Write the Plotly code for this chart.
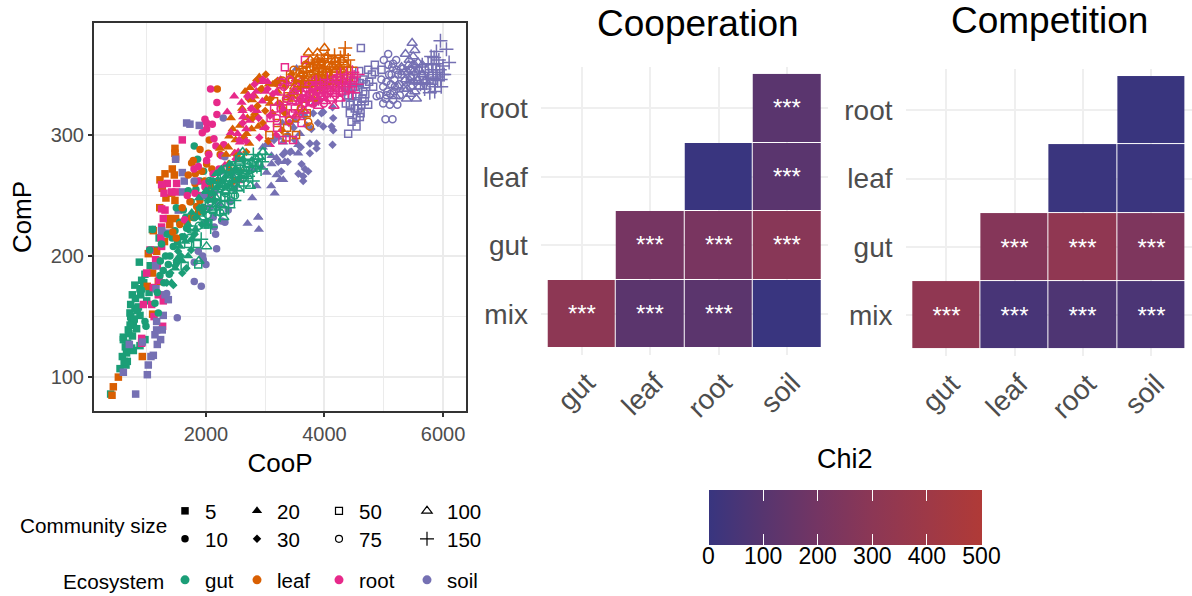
import plotly.graph_objects as go

# ---- scatter data ----------------------------------------------------------
gut_5_x = [392,550,589,673,651,746,606,606,690,775,746,718,803,887,758,887,915,876,1095,775,887,971,640,700,730,790,830,860,1000,1040,660,720,810,950,620,680,760,840,900,970,1060,1130,1210,730,800]
gut_5_y = [86,107,117,113,110,124,131,133,139,143,146,153,157,151,168,173,180,195,222,122,126,131,125,136,150,148,140,158,163,170,120,143,165,178,113,128,134,155,168,185,192,205,215,160,176]
gut_10_x = [915,988,971,1140,1196,1224,1280,1365,1393,1449,1505,1477,1674,1803,1859,1702,1618,1900,1100,1050,1250,1320,1430,1560,1750,1960,1180,1290,1380,1520,1600,1660,1830,1500,1350,1230]
gut_10_y = [172,142,146,161,153,184,188,193,200,208,195,221,223,291,280,254,238,262,222,205,210,200,215,228,245,270,170,178,185,212,216,232,255,240,218,196]
gut_20_x = [1420,1480,1520,1560,1600,1650,1700,1760,1820,1880,1940,2000,2060,2120,2200,2260,2330,1700,1850,2020,2170,2400,2480]
gut_20_y = [178,190,198,208,196,212,226,236,222,248,240,254,246,262,258,272,266,200,232,226,268,276,270]
gut_30_x = [1340,1400,1480,1530,1580,1640,1700,1760,1830,1890,1960,2030,2090,2150,2210,2280,2360,2420,2500,1450,1600,1750,1670,1810,1930,2070,2240,2550,2620]
gut_30_y = [178,186,192,204,200,216,222,214,232,240,236,246,252,246,258,262,258,268,272,176,186,205,190,218,226,262,270,264,280]
gut_50_x = [1640,1700,1790,1850,1910,1980,2050,2120,2190,2250,2310,2390,2450,2510,2580,1870,2040,2290,2650,2720,2360,2150]
gut_50_y = [192,210,222,210,236,226,244,238,250,258,248,262,258,268,272,193,226,238,268,276,272,258]
gut_75_x = [1720,1800,1880,1950,2030,2100,2180,2250,2330,2400,2470,2550,2620,2700,2780,2060,2240,2490,2840,2900,2580,2420,2300]
gut_75_y = [215,232,225,240,234,250,244,256,252,264,260,270,264,276,272,262,236,250,280,276,282,246,266]
gut_100_x = [2010,1880,2100,2170,2240,2320,2400,2470,2540,2620,2700,2770,2840,2900,2960,2300,2620,2200,2430,2560,2750]
gut_100_y = [208,196,238,248,242,254,258,264,256,270,266,278,272,282,286,232,286,262,274,278,258]
gut_150_x = [1920,2000,2080,2160,2240,2320,2400,2480,2560,2640,2710,2790,2860,2930,3000,2050,2200,2350,2500,2650,2800,2130,2280,2430,2580,2730,2880,2950,2520,2680,2380]
gut_150_y = [214,230,224,238,234,246,252,246,262,258,266,262,274,272,284,252,264,270,278,280,284,256,258,262,270,274,280,278,254,268,240]

leaf_5_x = [415,437,522,926,1100,1010,1196,1100,1027,1168,1365,1488,1112,1477,1477,1488,1432,1309,1466,1224,1264,1421,1477,1325,1220,1300,1390,1180]
leaf_5_y = [85,92,100,117,152,175,179,186,202,204,231,231,221,289,285,282,272,268,267,263,256,252,246,248,240,212,226,196]
leaf_10_x = [2191,2056,2040,1758,1786,1702,1815,2011,2011,1730,1899,1843,1870,1600,1500,1680,1930,2100,2200,2240,1980,1440,1560,1760,1900,2060,1820]
leaf_10_y = [338,296,285,277,279,267,260,276,253,245,246,241,236,240,215,228,270,272,262,284,262,220,226,232,288,258,268]
leaf_20_x = [2742,2780,2421,2393,2236,2376,2573,2826,2854,3079,2882,2685,2770,2730,2500,2610,2450,2950,3020,2660,2340,2560,3130,3210,2280,2820,2900,2700,3060,2480,2380]
leaf_20_y = [339,329,314,299,289,290,308,318,315,326,307,301,305,293,296,322,305,338,330,336,284,280,342,336,271,332,348,314,342,285,276]
leaf_30_x = [2850,2930,3010,3090,3170,3250,2720,2790,2640,3340,2520,2960,3120,3280,3400,2590,2400,2470,3050,3500,2870,3000,3210,3330,2680,3440]
leaf_30_y = [345,338,350,330,343,326,330,314,298,340,283,310,318,304,332,270,272,262,295,345,324,320,345,318,286,350]
leaf_50_x = [3200,3300,3380,3460,3540,3640,3720,3810,3900,3980,3070,3150,3260,3370,3520,3630,3420,3700,3860,3360,3580,3760,3940,4040,3480,3670]
leaf_50_y = [310,322,332,318,340,330,346,338,352,344,300,328,342,306,300,354,350,318,360,298,352,356,358,352,334,342]
leaf_75_x = [3726,3754,3350,3450,3550,3640,3730,3810,3880,3960,4040,4110,3290,3410,3600,3830,3990,4190,3520,3680,3770,3920,4070,4150,3480,3860,4000,3560]
leaf_75_y = [311,307,330,345,336,350,342,356,348,360,352,362,345,312,322,338,342,358,314,358,350,342,344,352,354,352,364,346]
leaf_100_x = [3500,3600,3690,3780,3870,3960,4040,4120,4200,4290,3730,3880,4000,3640,3800,4150,3470,4250,3820,3950,4080,4180,4320,3560,3690,3910,4060,4240,4360,3760]
leaf_100_y = [340,350,358,346,362,354,365,358,354,362,368,368,372,320,330,342,330,345,352,342,350,362,352,346,344,360,358,356,358,362]
leaf_150_x = [3900,4000,4090,4170,4250,4330,4400,4350,4280,4200,4120,4030,3950,4440,4390,3840,3750,3700,3800,3880,3960,4060,4140,4220,4300,4380,4470,3640,4020,4180,4270,4330,3920,3600]
leaf_150_y = [350,360,354,366,358,366,362,372,352,345,348,344,342,356,350,345,340,352,358,362,348,366,342,352,346,356,350,345,352,360,364,352,356,340]

root_5_x = [915,915,943,1084,1280,1196,1112,1151,1056,999,1252,1241,1252,1280,1269,1601,1348,1505,1252,1292,1421,1494,1309,1252,1180,1210,1125]
root_5_y = [132,128,160,160,163,168,174,197,205,186,208,215,224,231,142,296,260,260,259,252,253,253,238,239,192,180,150]
root_10_x = [2078,2185,2185,1983,2011,2107,2011,1938,2135,2168,2264,1798,1871,2011,1983,1685,1815,2078,1983,1960,2120,1860,1640,2220,1900,2050,2300]
root_10_y = [338,327,317,313,310,309,305,302,297,291,283,272,274,279,260,250,252,249,257,240,268,262,230,272,250,284,292]
root_20_x = [2893,2477,2601,2359,2618,2629,2713,2534,2573,3079,2545,2320,2573,2780,2850,2950,3040,2680,2420,2490,3180,2980,3120,2740,2860,2640,3000,3230]
root_20_y = [344,332,327,319,320,315,333,301,294,292,286,275,262,322,336,328,344,305,302,285,335,306,318,312,320,296,336,342]
root_30_x = [2960,3040,3130,3220,2820,2700,2620,2760,2890,3010,3300,3400,2500,2560,3500,3180,2900,3600,3080,2790,2680,3350,3260]
root_30_y = [346,338,334,326,342,332,310,322,314,306,322,310,280,296,336,300,298,328,316,332,295,344,346]
root_50_x = [3332,3670,3613,3150,3260,3360,3450,3540,3630,3720,3810,3900,3990,3090,3200,3400,3580,3760,3290,3470,3310,3500,3680,3850,3950]
root_50_y = [356,362,310,322,336,328,344,334,326,342,332,346,338,314,306,312,318,328,296,296,318,322,336,340,332]
root_75_x = [3260,3360,3460,3560,3660,3750,3840,3930,4020,4100,3410,3610,3800,3190,3990,3510,3700,3870,3310,4080,3620]
root_75_y = [322,330,318,340,326,334,344,332,342,336,346,344,326,314,326,328,338,336,340,346,330]
root_100_x = [4260,3450,3580,3700,3820,3940,4040,4130,4220,3520,3660,3780,3900,4020,4310,4160,3600,3740,3860,3980,4100,4240,3480,3840,4060]
root_100_y = [330,328,338,332,340,334,344,336,342,316,320,326,324,328,345,324,330,342,332,340,330,338,336,346,338]
root_150_x = [3760,3860,3960,4050,4130,4210,4290,4370,4440,4500,4540,4400,4310,4200,3900,4050,4480,3800,3930,4010,4100,4180,4250,4330,4420,3700,3840,4000,4140,4270,4360,4470,4560,4230,3620]
root_150_y = [336,344,338,346,340,348,342,350,344,348,342,336,334,332,330,332,335,330,342,340,336,344,338,346,340,332,338,334,344,350,342,352,350,336,328]

soil_5_x = [814,1011,1027,1072,1112,1179,1235,1140,1263,1168,1168,1280,606,707,926,1157,1309,1365,1252,1337,1151,1674,1730,1887,1488,1601,1634,1606,1533]
soil_5_y = [86,102,110,117,118,127,131,135,139,139,146,151,104,127,129,173,168,164,221,219,192,310,309,308,280,269,262,253,238]
soil_10_x = [1516,1803,1921,2000,1955,1944,1803,1871,2180,2163,2140,2320,2264,1337,2292,2320,2404,2376,2123,2152,2000,2480,1800,2250,2060,2220,2440,1960]
soil_10_y = [149,179,175,193,197,200,195,204,206,218,224,228,229,169,314,282,245,238,232,253,228,256,262,270,240,242,268,250]
soil_20_x = [2702,2882,2893,2854,2781,2882,3107,3191,3023,3191,3107,2938,3529,3304,3585,3557,3332,3445,3557,3332,3304,3250,3640,3100,2960,3420,3020,3220,3380,3500,2780,3160,3290]
soil_20_y = [227,232,222,258,248,232,283,281,269,267,276,274,355,294,301,292,286,286,285,278,263,263,318,258,290,310,292,298,300,312,272,252,310]
soil_30_x = [4136,4147,4119,3979,4147,4136,3754,3866,3866,3754,3613,3670,3726,3641,3641,3979,3810,3922,3480,3560,3380,3700,3270,3150,3600,3780,3890,3500,3420,3840,3300,3220,3950,3660]
soil_30_y = [323,314,307,307,304,292,293,293,289,285,276,272,270,266,262,319,318,329,306,268,278,308,270,296,290,305,310,296,286,326,284,278,318,316]
soil_50_x = [4614,4400,4586,4850,4850,4737,4754,4597,4822,4400,4541,4653,4737,4428,4428,4569,4597,4456,4541,4962,4510,4620,4690,4360,4480,4300,4510,4640,4700,4570,4470,4610,4540,4800,4680,4390,4560,4520,4450,4660]
soil_50_y = [372,301,353,358,352,354,344,343,340,333,332,336,325,325,318,322,315,311,307,354,340,325,334,326,345,336,322,330,342,338,332,318,314,350,328,340,328,344,338,346]
soil_75_x = [5075,5029,5148,5158,5215,5131,5046,5187,4990,4934,5046,5159,5102,5271,5355,5327,5230,5090,5000,4880,5120,5180,5060,5260,5300,5210,5030,4960,5140,5110,4990,5080,5170,5240]
soil_75_y = [367,313,313,359,354,350,344,340,340,333,333,329,325,333,345,355,325,350,362,332,342,346,336,342,350,362,330,346,356,334,326,358,336,350]
soil_100_x = [5479,5367,5524,5496,5580,5468,5384,5524,5440,5600,5350,5640,5250,5300,5550,5700,5420,5200,5460,5510,5400,5490,5540,5430,5370,5600,5470,5520,5450,5410,5570,5490,5340,5650]
soil_100_y = [376,367,370,365,360,354,330,336,345,340,352,350,340,356,330,345,358,332,348,344,338,358,352,362,346,354,340,358,334,352,345,352,338,358]
soil_150_x = [5957,6058,5889,6103,5777,5720,5833,5945,6000,5749,5889,5664,5970,5800,5600,5910,5760,6020,5520,5860,5830,5700,5930,5780,5650,5880,5990,5740,5810,5900,5620,5850,5960,5690,5870]
soil_150_y = [378,371,369,360,335,343,347,354,357,359,359,343,340,365,350,345,350,350,345,336,354,352,362,342,358,352,350,346,358,348,342,364,346,338,340]

# ---- heatmap data ----------------------------------------------------------
heat_x = ["gut", "leaf", "root", "soil"]
heat_y = ["mix", "gut", "leaf", "root"]
coop_z = [[305, 115, 115, 2], [None, 210, 222, 285], [None, None, 3, 112], [None, None, None, 110]]
coop_stars = [["***", "***", "***", ""], ["", "***", "***", "***"], ["", "", "", "***"], ["", "", "", "***"]]
comp_z = [[320, 50, 72, 62], [None, 270, 320, 240], [None, None, 5, 5], [None, None, None, 4]]
comp_stars = [["***", "***", "***", "***"], ["", "***", "***", "***"], ["", "", "", ""], ["", "", "", ""]]
chi2_ticks = [0, 100, 200, 300, 400, 500]

ECO_COLORS = {"gut": "#1B9E77", "leaf": "#D95F02", "root": "#E7298A", "soil": "#7570B3"}
SIZE_SYMBOLS = {5: "square", 10: "circle", 20: "triangle-up", 30: "diamond",
                50: "square-open", 75: "circle-open", 100: "triangle-up-open", 150: "cross-thin-open"}
SIZE_MARK = {5: 7.5, 10: 7.5, 20: 9, 30: 6.5, 50: 7, 75: 7, 100: 9, 150: 10}
TABLE = {
    (5, "gut"): (gut_5_x, gut_5_y), (5, "leaf"): (leaf_5_x, leaf_5_y), (5, "root"): (root_5_x, root_5_y), (5, "soil"): (soil_5_x, soil_5_y),
    (10, "gut"): (gut_10_x, gut_10_y), (10, "leaf"): (leaf_10_x, leaf_10_y), (10, "root"): (root_10_x, root_10_y), (10, "soil"): (soil_10_x, soil_10_y),
    (20, "leaf"): (leaf_20_x, leaf_20_y), (20, "root"): (root_20_x, root_20_y), (20, "soil"): (soil_20_x, soil_20_y), (20, "gut"): (gut_20_x, gut_20_y),
    (30, "leaf"): (leaf_30_x, leaf_30_y), (30, "root"): (root_30_x, root_30_y), (30, "soil"): (soil_30_x, soil_30_y), (30, "gut"): (gut_30_x, gut_30_y),
    (50, "soil"): (soil_50_x, soil_50_y), (50, "leaf"): (leaf_50_x, leaf_50_y), (50, "root"): (root_50_x, root_50_y), (50, "gut"): (gut_50_x, gut_50_y),
    (75, "soil"): (soil_75_x, soil_75_y), (75, "leaf"): (leaf_75_x, leaf_75_y), (75, "root"): (root_75_x, root_75_y), (75, "gut"): (gut_75_x, gut_75_y),
    (100, "soil"): (soil_100_x, soil_100_y), (100, "leaf"): (leaf_100_x, leaf_100_y), (100, "root"): (root_100_x, root_100_y), (100, "gut"): (gut_100_x, gut_100_y),
    (150, "soil"): (soil_150_x, soil_150_y), (150, "leaf"): (leaf_150_x, leaf_150_y), (150, "root"): (root_150_x, root_150_y), (150, "gut"): (gut_150_x, gut_150_y),
}

W, H = 1192, 596
FONT = "Liberation Sans"
px = lambda v: v / W
py = lambda v: 1 - v / H

fig = go.Figure()

for (size, eco), (xs, ys) in TABLE.items():
    sym = SIZE_SYMBOLS[size]
    fig.add_trace(go.Scatter(
        x=xs, y=ys, mode="markers", showlegend=False, name=f"{eco} {size}",
        marker=dict(symbol=sym, size=SIZE_MARK[size], color=ECO_COLORS[eco],
                    line=dict(color=ECO_COLORS[eco], width=1.5 if sym.endswith("open") else 0))))

COLORSCALE = [[0, "#38357F"], [0.2, "#57356F"], [0.4, "#743563"], [0.6, "#8C3755"], [0.8, "#9E3947"], [1, "#B03A37"]]
CLEAR = [[0, "rgba(0,0,0,0)"], [1, "rgba(0,0,0,0)"]]

fig.add_trace(go.Heatmap(x=heat_x, y=heat_y, z=coop_z, text=coop_stars, texttemplate="%{text}",
                         textfont=dict(color="white", size=24, family=FONT), xgap=1, ygap=1,
                         coloraxis="coloraxis", xaxis="x2", yaxis="y2", hoverongaps=False))
fig.add_trace(go.Heatmap(x=heat_x, y=heat_y, z=comp_z, text=comp_stars, texttemplate="%{text}",
                         textfont=dict(color="white", size=24, family=FONT), xgap=1, ygap=1,
                         coloraxis="coloraxis", xaxis="x3", yaxis="y3", hoverongaps=False))
# empty traces that only carry the clear overlay colour bars (upper tick row, labels)
for ca in ("coloraxis2", "coloraxis3"):
    fig.add_trace(go.Scatter(x=[None, None], y=[None, None], mode="markers", showlegend=False, xaxis="x2", yaxis="y2",
                             marker=dict(color=[0, 500], coloraxis=ca)))

# ---- legends: one small native legend per entry, so the columns can line up --
legend_layout = {}
COLS = (193, 265, 347, 435)
entries = [(5, COLS[0], 511), (20, COLS[1], 511), (50, COLS[2], 511), (100, COLS[3], 511),
           (10, COLS[0], 539), (30, COLS[1], 539), (75, COLS[2], 539), (150, COLS[3], 539)]
n = 0
def add_entry(name, marker, xpos, ypos):
    global n
    n += 1
    key = "legend" if n == 1 else f"legend{n}"
    fig.add_trace(go.Scatter(x=[None], y=[None], mode="markers", name=name, marker=marker,
                             legend=key, showlegend=True))
    legend_layout[key] = dict(x=px(xpos - 28), y=py(ypos), xanchor="left", yanchor="middle",
                              bgcolor="rgba(0,0,0,0)", borderwidth=0, itemsizing="trace",
                              font=dict(family=FONT, size=20.5, color="black"),
                              tracegroupgap=0, itemclick=False, itemdoubleclick=False)

for size, xpos, ypos in entries:
    sym = SIZE_SYMBOLS[size]
    add_entry(str(size), dict(symbol=sym, size=SIZE_MARK[size], color="black",
                              line=dict(color="black", width=1.2 if sym.endswith("open") else 0)), xpos, ypos)
for eco, xpos in zip(ECO_COLORS, COLS):
    add_entry(eco, dict(symbol="circle", size=9, color=ECO_COLORS[eco]), xpos, 580)

grid = "#EBEBEB"
layout_axes = dict(
    xaxis=dict(domain=[px(94), px(466)], range=[111, 6388], tickvals=[2000, 4000, 6000], ticks="outside",
               ticklen=4, tickwidth=1.5, tickcolor="#333333", tickfont=dict(size=20, color="#4D4D4D", family=FONT),
               showline=True, mirror=True, linecolor="#333333", linewidth=2, gridcolor=grid, gridwidth=2, zeroline=False,
               minor=dict(tickvals=[1000, 3000, 5000], showgrid=True, gridcolor=grid, gridwidth=1),
               title=dict(text="CooP", font=dict(size=26, color="black", family=FONT), standoff=10)),
    yaxis=dict(domain=[py(411), py(23)], range=[72, 392.6], tickvals=[100, 200, 300], ticks="outside",
               ticklen=4, tickwidth=1.5, tickcolor="#333333", tickfont=dict(size=20, color="#4D4D4D", family=FONT),
               showline=True, mirror=True, linecolor="#333333", linewidth=2, gridcolor=grid, gridwidth=2, zeroline=False,
               minor=dict(tickvals=[150, 250, 350], showgrid=True, gridcolor=grid, gridwidth=1),
               title=dict(text="ComP", font=dict(size=26, color="black", family=FONT), standoff=12)),
)
for i, (x0, x1, y0, y1) in zip((2, 3), ((540.9, 828.1, 67.1, 354.9), (905.5, 1192.8, 69.2, 356.1))):
    layout_axes[f"xaxis{i}"] = dict(domain=[px(x0), min(px(x1), 1)], range=[-0.6, 3.6], type="category",
                                    categoryorder="array", categoryarray=heat_x, anchor=f"y{i}",
                                    tickangle=-45, ticks="", showline=False, zeroline=False, gridcolor="#EFEFEF", gridwidth=2,
                                    ticklabelstandoff=5, ticklabelshift=5,
                                    tickfont=dict(size=28, color="#4D4D4D", family=FONT))
    layout_axes[f"yaxis{i}"] = dict(domain=[py(y1), py(y0)], range=[-0.6, 3.6], type="category",
                                    categoryorder="array", categoryarray=heat_y, anchor=f"x{i}",
                                    ticks="", showline=False, zeroline=False, gridcolor="#EFEFEF", gridwidth=2,
                                    ticklabelstandoff=12,
                                    tickfont=dict(size=28, color="#4D4D4D", family=FONT))

def note(text, x, y, size, color="black", xanchor="center"):
    return dict(text=text, x=px(x), y=py(y), xref="paper", yref="paper", showarrow=False,
                xanchor=xanchor, yanchor="middle", font=dict(size=size, color=color, family=FONT))

annotations = [note("Cooperation", 698, 24, 37), note("Competition", 1049, 21, 37),
               note("Chi2", 845, 459, 27),
               note("Community size", 169, 525, 20.7, xanchor="right"),
               note("Ecosystem", 166, 581, 20.7, xanchor="right")]

def colorbar(thickness, **extra):
    return dict(orientation="h", lenmode="pixels", len=272.5, thicknessmode="pixels", thickness=thickness,
                x=px(845), xanchor="center", y=py(490), yanchor="top", xpad=0, ypad=0, outlinewidth=0,
                tickvals=chi2_ticks, bgcolor="rgba(0,0,0,0)", **extra)

TICKS = dict(ticks="inside", ticklen=11, tickwidth=1.3, tickcolor="white")

fig.update_layout(
    width=W, height=H, margin=dict(l=0, r=0, t=0, b=0, autoexpand=False), autosize=False,
    paper_bgcolor="white", plot_bgcolor="white", font=dict(family=FONT),
    annotations=annotations,
    coloraxis=dict(cmin=0, cmax=500, colorscale=COLORSCALE, colorbar=colorbar(55, showticklabels=False, **TICKS)),
    coloraxis2=dict(cmin=0, cmax=500, colorscale=CLEAR, colorbar=colorbar(11, showticklabels=False, **TICKS)),
    coloraxis3=dict(cmin=0, cmax=500, colorscale=CLEAR,
                    colorbar=colorbar(46, ticks="", tickfont=dict(size=23, color="black", family=FONT))),
    **layout_axes, **legend_layout,
)

fig.write_html("out.html", config={"displayModeBar": False}, post_script="document.body.style.margin='0';")
